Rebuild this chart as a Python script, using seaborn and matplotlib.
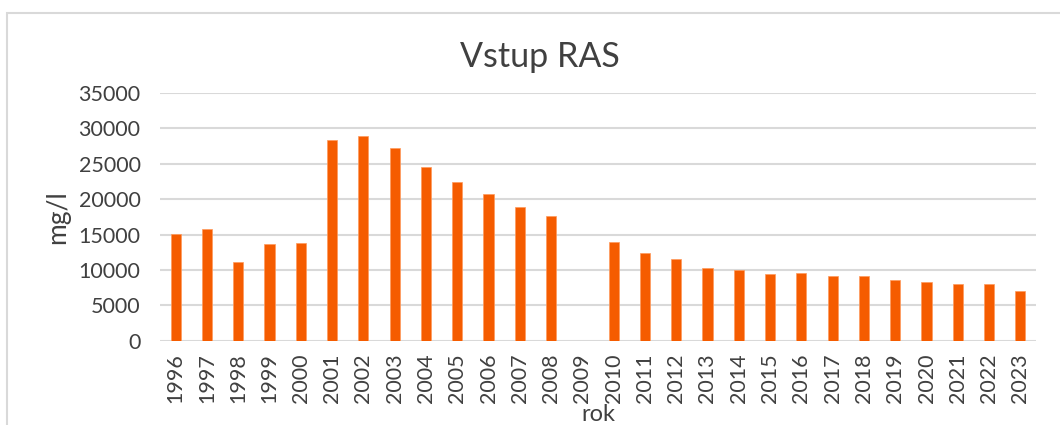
import matplotlib
matplotlib.use("Agg")
import matplotlib.pyplot as plt
import seaborn as sns
import pandas as pd
import numpy as np
from matplotlib.patches import Rectangle

years = [str(y) for y in range(1996, 2024)]
values = [15050, 15800, 11100, 13650, 13750, 28400, 28900, 27250, 24500, 22450,
          20750, 18950, 17550, np.nan, 13900, 12350, 11600, 10300, 9950, 9450,
          9500, 9200, 9100, 8550, 8250, 7950, 7950, 7050]
title = "Vstup RAS"
xlabel = "rok"
ylabel = "mg/l"

df = pd.DataFrame({"rok": years, "val": values})

sns.set_theme(style="white")
plt.rcParams["font.family"] = ["Lato", "DejaVu Sans"]

fig = plt.figure(figsize=(10.6, 4.25), dpi=100)
ax = fig.add_axes([160/1060, 1-340.7/425, (1036-160)/1060, (340.7-93)/425])

sns.barplot(data=df, x="rok", y="val", order=years, color="#F55C00",
            saturation=1, width=0.32, ax=ax, zorder=3, edgecolor="#FF9A5C", linewidth=0.5)

ax.set_ylim(0, 35000)
ax.set_yticks(range(0, 35001, 5000))
ax.yaxis.grid(True, color="#d9d9d9", linewidth=1.5, zorder=0)
ax.set_axisbelow(True)
for s in ax.spines.values():
    s.set_visible(False)
ax.tick_params(axis="both", length=0, colors="#404040", labelsize=15.5)
ax.tick_params(axis="y", pad=14)
ax.tick_params(axis="x", pad=9)
for lbl in ax.get_xticklabels():
    lbl.set_rotation(90)
ax.set_xlabel(xlabel, fontsize=17, color="#404040", labelpad=1)
ax.set_ylabel(ylabel, fontsize=19, color="#404040", labelpad=6)
fig.text(0.509, 1-57/425, title, ha="center", va="center", fontsize=24.5, color="#404040")

fig.patches.append(Rectangle((7/1060, -0.05), 1.1, 1.05 - 13/425 , transform=fig.transFigure,
                             fill=False, edgecolor="#d9d9d9", linewidth=1.5, clip_on=False))

fig.savefig("out.png", dpi=100)
